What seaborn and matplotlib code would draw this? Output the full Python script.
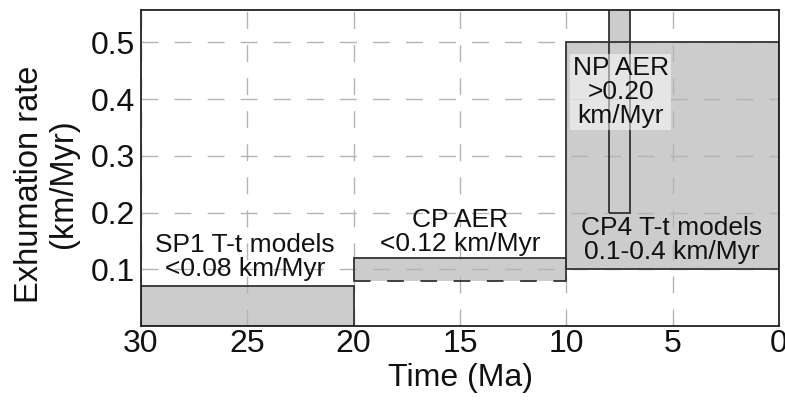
import matplotlib
matplotlib.use("Agg")
import matplotlib.pyplot as plt
import seaborn as sns
import pandas as pd

# Exhumation-rate constraints: time window (Ma) and rate range (km/Myr)
labels = ["SP1", "CP AER", "CP4", "NP AER"]
t_old = [30, 20, 10, 8]
t_young = [20, 10, 0, 7]
rate_low = [0.0, 0.08, 0.1, 0.2]
rate_high = [0.07, 0.12, 0.5, 0.6]
texts = [
    "SP1 T-t models\n<0.08 km/Myr",
    "CP AER\n<0.12 km/Myr",
    "CP4 T-t models\n0.1-0.4 km/Myr",
    "NP AER\n>0.20\nkm/Myr",
]
text_x = [25.1, 15.0, 5.05, 7.45]
text_y = [0.121, 0.165, 0.151, 0.413]

x_ticks = [30, 25, 20, 15, 10, 5, 0]
y_ticks = [0.1, 0.2, 0.3, 0.4, 0.5]

df = pd.DataFrame({"label": labels, "t_old": t_old, "t_young": t_young,
                   "low": rate_low, "high": rate_high})

sns.set_style("whitegrid", {"grid.color": "#b4b4b4", "axes.edgecolor": "#222222"})
plt.rcParams["font.family"] = ["Liberation Sans", "DejaVu Sans"]

fig = plt.figure(figsize=(7.85, 4.0), dpi=100)
ax = fig.add_axes([0.1796, 0.185, 0.8128, 0.79])

fill = "#cccccc"
edge = "#333333"
lw = 1.3

for i, r in df.iterrows():
    width = r["t_young"] - r["t_old"]
    height = r["high"] - r["low"]
    # gray fill below the grid, outlines above it
    ax.bar(r["t_old"], height, width=width, bottom=r["low"], align="edge",
           color=fill, edgecolor="none", zorder=1)
    if r["label"] == "CP AER":
        # solid top and sides, dashed lower bound
        ax.plot([r["t_old"], r["t_old"], r["t_young"], r["t_young"]],
                [r["low"], r["high"], r["high"], r["low"]],
                color=edge, lw=lw, zorder=3, solid_joinstyle="miter")
        ax.plot([r["t_old"], r["t_young"]], [r["low"], r["low"]],
                color=edge, lw=lw, ls=(0, (9.2, 9.2)), zorder=3)
    else:
        ax.bar(r["t_old"], height, width=width, bottom=r["low"], align="edge",
               facecolor="none", edgecolor=edge, linewidth=lw, zorder=3)

for i, (tx, ty, s) in enumerate(zip(text_x, text_y, texts)):
    kw = {}
    if labels[i] == "NP AER":
        kw["bbox"] = dict(boxstyle="square,pad=0.08", facecolor="white",
                          edgecolor="none", alpha=0.5)
    ax.text(tx, ty, s, ha="center", va="center", fontsize=19,
            color="#111111", zorder=4, linespacing=1.0, **kw)

ax.set_axisbelow(False)
ax.grid(True, zorder=2)
for gl in ax.get_xgridlines() + ax.get_ygridlines():
    gl.set_zorder(2)
    gl.set_linewidth(1.0)
    gl.set_linestyle((0, (12.2, 11.6)))

ax.set_xlim(30, 0)
ax.set_ylim(0, 0.557)
ax.set_xticks(x_ticks)
ax.set_yticks(y_ticks)
ax.set_xticklabels([str(v) for v in x_ticks])
ax.set_yticklabels([f"{v:.1f}" for v in y_ticks])
ax.tick_params(axis="both", labelsize=23, pad=4, length=0, colors="#111111")
ax.tick_params(axis="x", pad=2)

for sp in ax.spines.values():
    sp.set_linewidth(1.3)
    sp.set_color("#222222")
    sp.set_zorder(5)

ax.set_xlabel("Time (Ma)", fontsize=23, color="#111111", labelpad=3)
ax.set_ylabel("Exhumation rate\n(km/Myr)", fontsize=23.5, color="#111111",
              linespacing=1.15, va="center")
ax.yaxis.set_label_coords(-0.148, 0.449)

fig.savefig("out.png", dpi=100)
